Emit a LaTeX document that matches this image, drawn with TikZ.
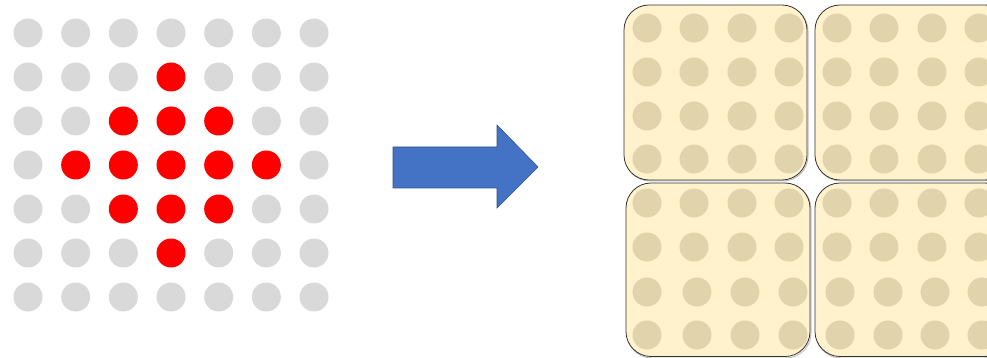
\documentclass[tikz,border=0pt]{standalone}
\definecolor{dotgrey}{HTML}{D9D9D9}
\definecolor{dotred}{HTML}{FF0000}
\definecolor{arrowblue}{HTML}{4472C4}
\definecolor{arrowedge}{HTML}{2F528F}
\definecolor{panelfill}{HTML}{FFF2CC}
\definecolor{paneldot}{HTML}{E1D3AC}
\begin{document}
\begin{tikzpicture}[x=1pt,y=-1pt,
  dot/.style={circle,minimum size=29pt,inner sep=0pt,draw=none},
  pdot/.style={circle,minimum size=29pt,inner sep=0pt,draw=none,fill=paneldot},
  panel/.style={draw=black!80,line width=0.8pt,fill=panelfill,rounded corners=25pt},
  pshadow/.style={draw=black!25,line width=1pt,rounded corners=25pt}]
\useasboundingbox (0,0) rectangle (987,358);
\clip (0,0) rectangle (987,358);
% left grid
\foreach \i in {1,...,7} {
  \foreach \j in {1,...,7} {
    \pgfmathtruncatemacro\dd{abs(\i-4)+abs(\j-4)}
    \ifnum\dd<3 \def\dc{dotred}\else\def\dc{dotgrey}\fi
    \node[dot,fill=\dc] (g-\i-\j) at ({28+(\j-1)*47.67},{33+(\i-1)*44}) {};
  }
}
% arrow
\draw[fill=arrowblue,draw=arrowedge,line width=0.6pt]
  (393,147) coordinate (a0) -- (497,147) -- (497,125) -- (538,167) coordinate (atip)
  -- (497,208) -- (497,188) -- (393,188) -- cycle;
% panels
\draw[pshadow] (625,6) rectangle (808,181);
\draw[pshadow] (816,6) rectangle (1010,181);
\draw[pshadow] (627,184) rectangle (811,358);
\draw[pshadow] (816,184) rectangle (1010,358);
\draw[panel] (624,5) rectangle (807,180);
\draw[panel] (815,5) rectangle (1010,180);
\draw[panel] (626,183) rectangle (810,356.5);
\draw[panel] (815,183) rectangle (1010,356.5);
% panel dots
\foreach \y [count=\r] in {28,72,116,159} {
  \foreach \x [count=\c] in {647,694,742,789} \node[pdot] (tl-\r-\c) at (\x,\y) {};
  \foreach \x [count=\c] in {837,884,932,979} \node[pdot] (tr-\r-\c) at (\x,\y) {};
}
\foreach \y [count=\r] in {203,247} {
  \foreach \x [count=\c] in {647,694,742,789} \node[pdot] (bl-\r-\c) at (\x,\y) {};
  \foreach \x [count=\c] in {837,884,932,979} \node[pdot] (br-\r-\c) at (\x,\y) {};
}
\foreach \y [count=\r from 3] in {292,335} {
  \foreach \x [count=\c] in {647,697,745,793} \node[pdot] (bl-\r-\c) at (\x,\y) {};
  \foreach \x [count=\c] in {840,888,935,982} \node[pdot] (br-\r-\c) at (\x,\y) {};
}
\end{tikzpicture}
\end{document}
